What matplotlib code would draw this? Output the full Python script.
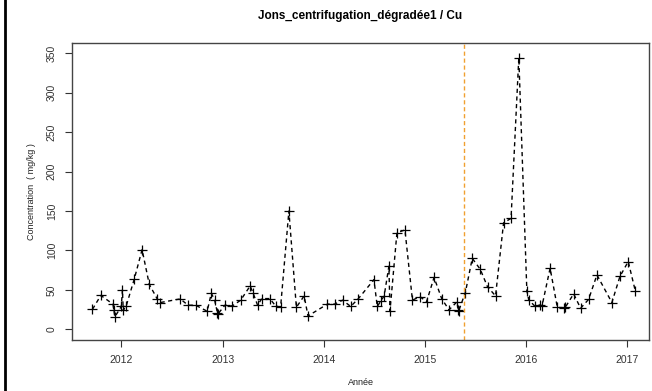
import matplotlib
matplotlib.use("Agg")
import matplotlib.pyplot as plt
import matplotlib.dates as mdates
from matplotlib.lines import Line2D
import pandas as pd

plt.rcParams['font.family'] = ['Liberation Sans', 'DejaVu Sans']

title = "Jons_centrifugation_dégradée1 / Cu"
xlabel = "Année"
ylabel = "Concentration  ( mg/kg )"

dates = [
    "2011-09-19", "2011-10-19", "2011-12-02", "2011-12-05", "2011-12-09",
    "2012-01-01", "2012-01-05", "2012-01-08", "2012-01-19", "2012-02-17",
    "2012-03-16", "2012-04-11", "2012-05-09", "2012-05-21", "2012-08-01",
    "2012-08-29", "2012-09-25", "2012-11-06", "2012-11-21", "2012-12-03",
    "2012-12-13", "2012-12-16", "2013-01-09", "2013-02-05", "2013-03-07",
    "2013-04-10", "2013-04-21", "2013-05-07", "2013-05-22", "2013-06-20",
    "2013-07-11", "2013-07-29", "2013-08-28", "2013-09-24", "2013-10-22",
    "2013-11-05", "2014-01-14", "2014-02-09", "2014-03-10", "2014-04-08",
    "2014-05-06", "2014-07-01", "2014-07-13", "2014-07-27", "2014-08-07",
    "2014-08-24", "2014-08-28", "2014-09-22", "2014-10-21", "2014-11-17",
    "2014-12-14", "2015-01-07", "2015-02-03", "2015-03-03", "2015-03-29",
    "2015-04-27", "2015-05-01", "2015-05-03", "2015-05-27", "2015-06-21",
    "2015-07-20", "2015-08-15", "2015-09-13", "2015-10-12", "2015-11-08",
    "2015-12-06", "2016-01-04", "2016-01-11", "2016-02-03", "2016-02-21",
    "2016-02-28", "2016-03-28", "2016-04-23", "2016-05-18", "2016-05-22",
    "2016-06-21", "2016-07-16", "2016-08-14", "2016-09-13", "2016-11-06",
    "2016-12-05", "2017-01-04", "2017-01-30",
]
values = [
    25.5, 43, 32, 24, 16,
    29, 50, 24, 30, 64,
    101, 57, 39, 34, 38.6,
    30.6, 30.6, 23, 45.8, 37,
    21, 20, 30.6, 29.7, 37,
    55, 45.8, 30.6, 39, 39,
    29.7, 28, 150, 28, 42.4,
    17, 32, 32, 37, 29,
    39, 63, 29, 36.5, 42.5,
    80, 23.5, 122.5, 126, 37,
    41.5, 35, 65.8, 38.6, 24.7,
    35, 24.7, 23.5, 46.6, 90,
    76, 54, 42.4, 135, 140.7,
    344.5, 49, 37.3, 29, 31,
    30, 77.5, 28, 27, 28,
    45, 26.8, 38, 69, 34,
    67, 86, 48,
]
event_date = "2015-05-23"
y_ticks = [0, 50, 100, 150, 200, 250, 300, 350]

x = pd.to_datetime(dates)

W, H = 652, 391
fig = plt.figure(figsize=(W / 100, H / 100), dpi=100)
ax = fig.add_axes([72 / W, 1 - 340 / H, (649 - 72) / W, (340 - 43) / H])

ax.plot(x, values, linestyle=(0, (3, 2.5)), color='black', linewidth=1.0,
        marker='+', markersize=6.5, markeredgewidth=0.9)
ax.axvline(pd.Timestamp(event_date), color='#f0a030', linestyle=(0, (3, 2)), linewidth=1.0)

ax.set_xlim(pd.Timestamp("2011-07-07"), pd.Timestamp("2017-03-20"))
ax.set_ylim(-13.5, 363)
ax.set_yticks(y_ticks)
ax.set_yticklabels([str(v) for v in y_ticks], rotation=90, va='center', fontsize=7.5)
ax.xaxis.set_major_locator(mdates.YearLocator())
ax.xaxis.set_major_formatter(mdates.DateFormatter('%Y'))
for lab in ax.get_xticklabels():
    lab.set_fontsize(7.5)
ax.tick_params(axis='both', length=5, width=0.8, color='#333333', labelcolor='#333333', pad=6)

for s in ax.spines.values():
    s.set_color('#444444')
    s.set_linewidth(1.0)

ax.set_title(title, fontsize=8.5, fontweight='bold', pad=17)
ax.set_xlabel(xlabel, fontsize=6.5, labelpad=9, color='#222222')
ax.set_ylabel(ylabel, fontsize=6.5, labelpad=8, color='#222222')

fig.add_artist(Line2D([5 / W, 5 / W], [0, 1], transform=fig.transFigure,
                      color='black', linewidth=2))

fig.savefig("out.png", dpi=100)
